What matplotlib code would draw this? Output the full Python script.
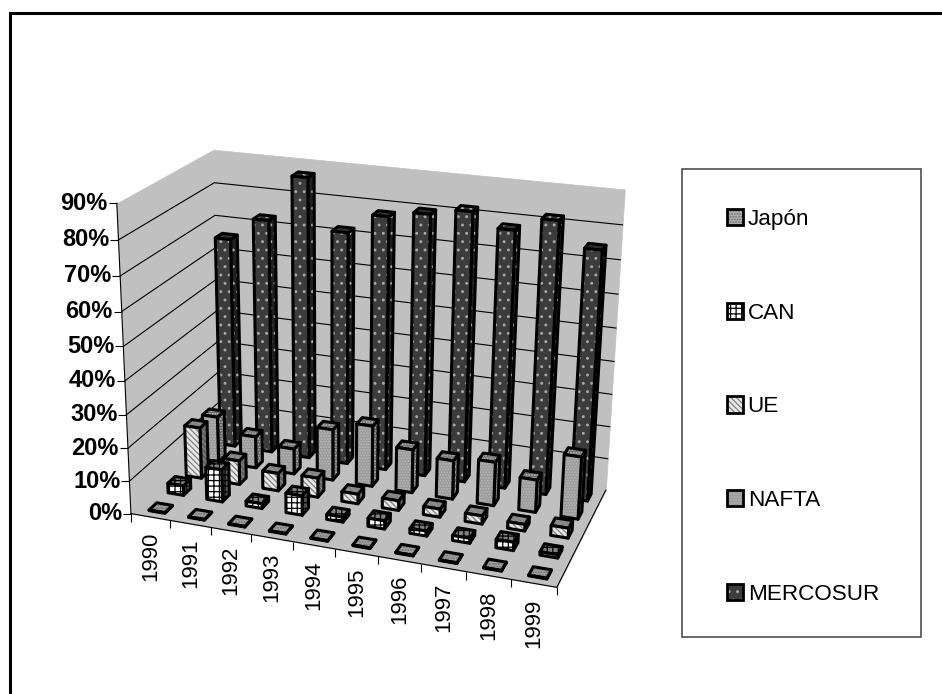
import numpy as np
import matplotlib
matplotlib.use("Agg")
import matplotlib.pyplot as plt
from matplotlib.colors import to_rgba
from matplotlib.patches import Patch, Rectangle
from matplotlib.lines import Line2D
from mpl_toolkits.mplot3d import proj3d
from mpl_toolkits.mplot3d.art3d import Poly3DCollection

plt.rcParams['font.family'] = ['Liberation Sans', 'DejaVu Sans']
plt.rcParams['hatch.linewidth'] = 0.9

years = ['1990', '1991', '1992', '1993', '1994', '1995', '1996', '1997', '1998', '1999']
series_names = ['Japón', 'CAN', 'UE', 'NAFTA', 'MERCOSUR']
pct_ticks = [0, 10, 20, 30, 40, 50, 60, 70, 80, 90]

japon = [0.2, 0.2, 0.2, 0.2, 0.2, 0.2, 0.2, 0.2, 0.2, 0.2]
can = [3, 10, 1.5, 6, 1.5, 2.5, 1.5, 1.5, 2.5, 1]
ue = [16, 7.5, 5.5, 6, 3, 3, 2.5, 2.5, 2, 3]
nafta = [14.5, 10, 8, 16, 19, 13.5, 12, 13.5, 10, 19]
mercosur = [66, 73, 87, 72, 78, 80, 82, 78, 82, 75]
all_series = [japon, can, ue, nafta, mercosur]

# front, side, top colour, hatch colour, hatch
styles = [
    ('#b0b0b0', '#808080', '#a0a0a0', '#707070', '......'),
    ('#ffffff', '#505050', '#808080', '#000000', '+++'),
    ('#e8e8e8', '#606060', '#8a8a8a', '#808080', '\\\\\\\\\\\\'),
    ('#9a9a9a', '#606060', '#707070', '#b8b8b8', '......'),
    ('#3c3c3c', '#202020', '#303030', '#a8a8a8', '..'),
]

xm, ym, zm = len(years), len(series_names), pct_ticks[-1]

fig = plt.figure(figsize=(9.42, 6.94), dpi=100)
ax = fig.add_axes([0, 0, 1, 1], projection='3d')
ax.set_proj_type('persp', focal_length=0.4)

# camera fitted to the corners of the walls in the reference
ax.view_init(20.2819, -70.6482, -0.4322)
ax.set_box_aspect((1, 0.5023, 0.7392), zoom=0.7159)
ax.set_xlim(xm*(0.4267-.5), xm*(0.4267+.5), view_margin=0)
ax.set_ylim(ym*(0.7656-.5), ym*(0.7656+.5), view_margin=0)
ax.set_zlim(zm*(0.4988-.5), zm*(0.4988+.5), view_margin=0)

# place the axes so the view maps to the right pixels
s, tx, ty = 4191.91, 363.001, 331.38
x0, x1 = ax.viewLim.intervalx
y0, y1 = ax.viewLim.intervaly
ax.set_position([(s*x0+tx)/942, (s*y0+694-ty)/694, s*(x1-x0)/942, s*(y1-y0)/694])
ax.set_axis_off()
ax.computed_zorder = False
ax.patch.set_alpha(0)
M = ax.get_proj()


def to2d(x, y, z):
    u, v, _ = proj3d.proj_transform(x, y, z, M)
    return (u, v)


def faces(x0, x1, y0, y1, h):
    return ([(x0, y0, 0), (x1, y0, 0), (x1, y0, h), (x0, y0, h)],
            [(x1, y0, 0), (x1, y1, 0), (x1, y1, h), (x1, y0, h)],
            [(x0, y0, h), (x1, y0, h), (x1, y1, h), (x0, y1, h)])


# floor and walls
wall = '#c0c0c0'
for quad in ([(0, 0, 0), (xm, 0, 0), (xm, ym, 0), (0, ym, 0)],
             [(0, 0, 0), (0, ym, 0), (0, ym, zm), (0, 0, zm)],
             [(0, ym, 0), (xm, ym, 0), (xm, ym, zm), (0, ym, zm)]):
    ax.add_collection3d(Poly3DCollection([quad], facecolor=wall, edgecolor=wall, linewidth=0.5, zorder=1))

# gridlines
for t in pct_ticks[1:-1]:
    ax.plot([0, 0, xm], [0, ym, ym], [t, t, t], color='k', lw=0.8, zorder=2)

# axis lines, ticks and labels
ax.plot([0, 0], [0, 0], [0, zm], color='k', lw=0.8, zorder=3)
ax.plot([0, xm, xm], [0, 0, ym], [0, 0, 0], color='k', lw=0.8, zorder=3)
for t in pct_ticks:
    ax.plot([0], [0], [t], marker=0, ms=6, mew=0.8, color='k', zorder=3)
    ax.annotate(f'{t}%', to2d(0, 0, t), xytext=(-9, 0), textcoords='offset pixels', ha='right', va='center',
                fontsize=17, fontweight='bold', annotation_clip=False)
for i in range(xm + 1):
    ax.plot([i], [0], [0], marker=3, ms=6, mew=0.8, color='k', zorder=3)
for i, y in enumerate(years):
    ax.annotate(y, to2d(i+0.5, 0, 0), xytext=(0, -15), textcoords='offset pixels', ha='center', va='top', rotation=90,
                fontsize=16, annotation_clip=False)

# bars, back row first, left to right
bw = 0.4
zo = 10
for row in range(ym - 1, -1, -1):
    fc, sc, tc, hc, ha = styles[row]
    for i, v in enumerate(all_series[row]):
        bx = i + 0.5 - bw/2
        by = row + 0.5 - bw/2
        fr, si, to = faces(bx, bx+bw, by, by+bw, v)
        for quad, col in ((si, sc), (to, tc), (fr, fc)):
            zo += 1
            ax.add_collection3d(Poly3DCollection([quad], facecolor=col, edgecolor=hc, linewidth=0, hatch=ha, zorder=zo))
            zo += 1
            ax.add_collection3d(Poly3DCollection([quad], facecolor=(0, 0, 0, 0), edgecolor='k', linewidth=2.2, zorder=zo))

# frame of the picture, only top and left fall inside the image
fig.add_artist(Line2D([9.5/942, 9.5/942, 1], [0, 1-12.5/694, 1-12.5/694], color='k', lw=2.2, solid_joinstyle='miter'))

# legend box and legend
fig.add_artist(Rectangle((682/942, 1-637/694), 239/942, 468/694, transform=fig.transFigure, fill=False, edgecolor='#404040', lw=1.1))
handles = [Patch(facecolor=st[0], edgecolor='k', lw=2, hatch=st[4]) for st in styles]
leg = fig.legend(handles, series_names, loc='upper left', bbox_to_anchor=(727/942, 1-209/694), frameon=False,
                 fontsize=16.2, borderpad=0, borderaxespad=0, handlelength=0.72, handleheight=0.72,
                 handletextpad=0.2, labelspacing=3.23, labelcolor='k')
for h, st in zip(leg.get_patches(), styles):
    h._hatch_color = to_rgba(st[3])

fig.savefig("out.png")
